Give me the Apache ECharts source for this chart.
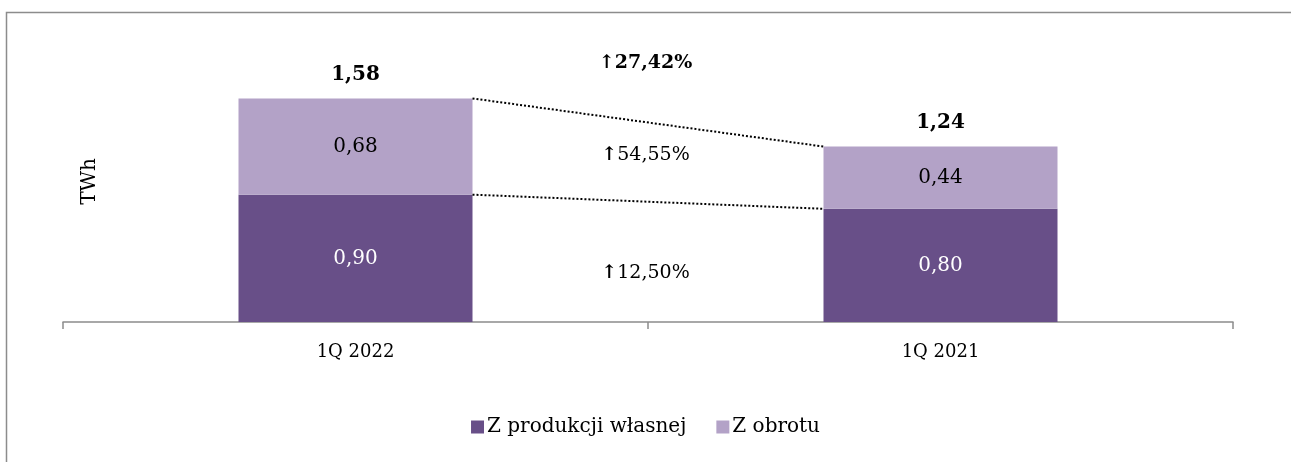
<!DOCTYPE html>
<html>
<head>
<meta charset="utf-8">
<script src="https://cdn.jsdelivr.net/npm/echarts@6/dist/echarts.min.js"></script>
<style>
  html, body { margin: 0; padding: 0; background: #fff; }
  #chart { width: 1291px; height: 462px; }
</style>
</head>
<body>
<div id="chart"></div>
<script>
// dane
var categories = ['1Q 2022', '1Q 2021']
var ownProduction = [0.90, 0.80]
var trading = [0.68, 0.44]
var totals = [1.58, 1.24]
var changeLabels = ['27,42%', '54,55%', '12,50%']

var FONT = 'DejaVu Serif'
var DARK = '#684F88'
var LIGHT = '#B3A2C7'

function fmt(v) {
    return v.toFixed(2).replace('.', ',')
}

var myChart = echarts.init(document.getElementById('chart'))

// linie kropkowane miedzy slupkami
var connectors = [
    [0, totals[0], totals[1]],
    [0, ownProduction[0], ownProduction[1]]
]

var option = {
    animation: false,
    textStyle: { fontFamily: FONT },
    grid: { left: 63, right: 58, top: 39, bottom: 140 },
    legend: {
        bottom: 20,
        left: 'center',
        itemWidth: 13,
        itemHeight: 13,
        itemGap: 30,
        icon: 'rect',
        textStyle: { fontFamily: FONT, fontSize: 20, color: '#000', padding: [0, 0, 0, -2] },
        data: ['Z produkcji własnej', 'Z obrotu']
    },
    xAxis: {
        type: 'category',
        data: categories,
        axisLine: { lineStyle: { color: '#8c8c8c', width: 1.5 } },
        axisTick: { show: true, length: 7, lineStyle: { color: '#8c8c8c', width: 1.5 } },
        axisLabel: { fontFamily: FONT, fontSize: 18, color: '#000', margin: 21 }
    },
    yAxis: {
        type: 'value',
        min: 0,
        max: 2,
        show: false
    },
    graphic: [
        {
            type: 'polyline', silent: true,
            shape: { points: [[6.5, 470], [6.5, 12.5], [1300, 12.5]] },
            style: { fill: 'none', stroke: '#8c8c8c', lineWidth: 1.5 }
        },
        {
            type: 'text', left: 80, top: 158, rotation: Math.PI / 2,
            style: { text: 'TWh', font: '20px "' + FONT + '"', fill: '#000' }
        },
        {
            type: 'text', left: 'center', top: 54,
            style: { text: '↑' + changeLabels[0], font: 'bold 19px "' + FONT + '"', fill: '#000' }
        },
        {
            type: 'text', left: 'center', top: 146,
            style: { text: '{a|↑}' + changeLabels[1], font: '19px "' + FONT + '"', fill: '#000',
                rich: { a: { font: 'bold 19px "' + FONT + '"' } } }
        },
        {
            type: 'text', left: 'center', top: 264,
            style: { text: '{a|↑}' + changeLabels[2], font: '19px "' + FONT + '"', fill: '#000',
                rich: { a: { font: 'bold 19px "' + FONT + '"' } } }
        }
    ],
    series: [
        {
            name: 'Z produkcji własnej',
            type: 'bar',
            stack: 'a',
            barWidth: '40%',
            data: ownProduction,
            itemStyle: { color: DARK },
            label: {
                show: true, position: 'inside', color: '#fff',
                fontFamily: FONT, fontSize: 20,
                formatter: function (p) { return fmt(p.value) }
            }
        },
        {
            name: 'Z obrotu',
            type: 'bar',
            stack: 'a',
            barWidth: '40%',
            data: trading,
            itemStyle: { color: LIGHT },
            label: {
                show: true, position: 'inside', color: '#000',
                fontFamily: FONT, fontSize: 20,
                formatter: function (p) { return fmt(p.value) }
            }
        },
        {
            // sumy nad slupkami
            type: 'custom',
            data: totals.map(function (v, i) { return [i, v] }),
            encode: { x: 0, y: 1 },
            z: 5,
            renderItem: function (params, api) {
                var p = api.coord([api.value(0), api.value(1)])
                return {
                    type: 'text',
                    style: {
                        text: fmt(api.value(1)),
                        x: p[0], y: p[1] - 14,
                        align: 'center', verticalAlign: 'bottom',
                        font: 'bold 20px "' + FONT + '"', fill: '#000'
                    }
                }
            }
        },
        {
            type: 'custom',
            data: connectors,
            encode: { x: 0, y: 1 },
            z: 4,
            renderItem: function (params, api) {
                var half = api.size([1, 0])[0] * 0.2
                var p0 = api.coord([0, api.value(1)])
                var p1 = api.coord([1, api.value(2)])
                return {
                    type: 'line',
                    shape: { x1: p0[0] + half, y1: p0[1], x2: p1[0] - half, y2: p1[1] },
                    style: { stroke: '#000', lineWidth: 2, lineDash: [2, 2] }
                }
            }
        }
    ]
}

myChart.setOption(option, true)
</script>
</body>
</html>
